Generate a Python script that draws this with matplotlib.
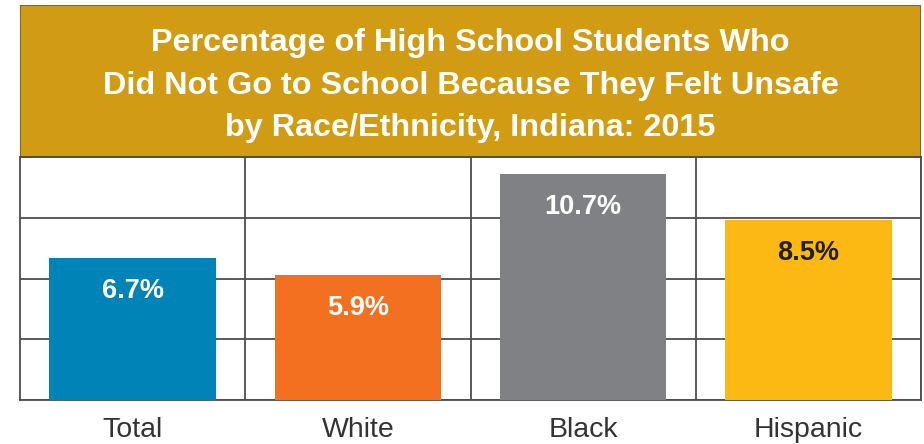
import matplotlib
matplotlib.use("Agg")
import matplotlib.pyplot as plt
from matplotlib.patches import Rectangle
import numpy as np

# data
groups = ["Total", "White", "Black", "Hispanic"]
pct = [6.7, 5.9, 10.7, 8.5]
bar_colors = ["#0083B6", "#F37021", "#808184", "#FCB813"]
label_colors = ["white", "white", "white", "#231F20"]
title = ("Percentage of High School Students Who\n"
         "Did Not Go to School Because They Felt Unsafe\n"
         "by Race/Ethnicity, Indiana: 2015")

W, H = 924, 444
fig = plt.figure(figsize=(W / 100, H / 100), dpi=100)

# gold title band
band = fig.add_axes([20 / W, (H - 157) / H, 901 / W, 152 / H])
band.set_xlim(0, 1)
band.set_ylim(0, 1)
band.axis("off")
band.add_patch(Rectangle((0, 0), 1, 1, transform=band.transAxes,
                         facecolor="#D19B14", edgecolor="#6E5B3A", lw=1.2))
band.text(0.5, 0.47, title, ha="center", va="center", color="white",
          fontsize=23.3, fontweight="bold", linespacing=1.55,
          family=["Liberation Sans", "DejaVu Sans"])

# bar panel
ax = fig.add_axes([20 / W, (H - 400) / H, 901 / W, 243 / H])
x = np.arange(len(groups))
ax.bar(x, pct, width=0.74, color=bar_colors, zorder=3)
ax.set_xlim(-0.5, len(groups) - 0.5)
ax.set_ylim(0, 11.5)

# box grid
ax.set_yticks(np.linspace(0, 11.5, 5))
ax.set_xticks(x + 0.5, minor=True)
ax.grid(True, axis="y", color="#4D4D4D", lw=1.3, zorder=1)
ax.grid(True, axis="x", which="minor", color="#4D4D4D", lw=1.3, zorder=1)
for s in ax.spines.values():
    s.set_color("#4D4D4D")
    s.set_linewidth(1.3)
ax.tick_params(axis="both", which="both", length=0)
ax.set_yticklabels([])
ax.set_xticks(x)
ax.set_xticklabels(groups, fontsize=20.5, color="#333333",
                   family=["Liberation Sans", "DejaVu Sans"])
ax.tick_params(axis="x", pad=12)

for xi, v, c in zip(x, pct, label_colors):
    ax.annotate(f"{v}%", (xi, v), xytext=(0, -23.5), textcoords="offset points",
                ha="center", va="center", color=c, fontsize=19.5,
                fontweight="bold", family=["Liberation Sans", "DejaVu Sans"],
                zorder=4)

fig.savefig("out.png", dpi=100)
